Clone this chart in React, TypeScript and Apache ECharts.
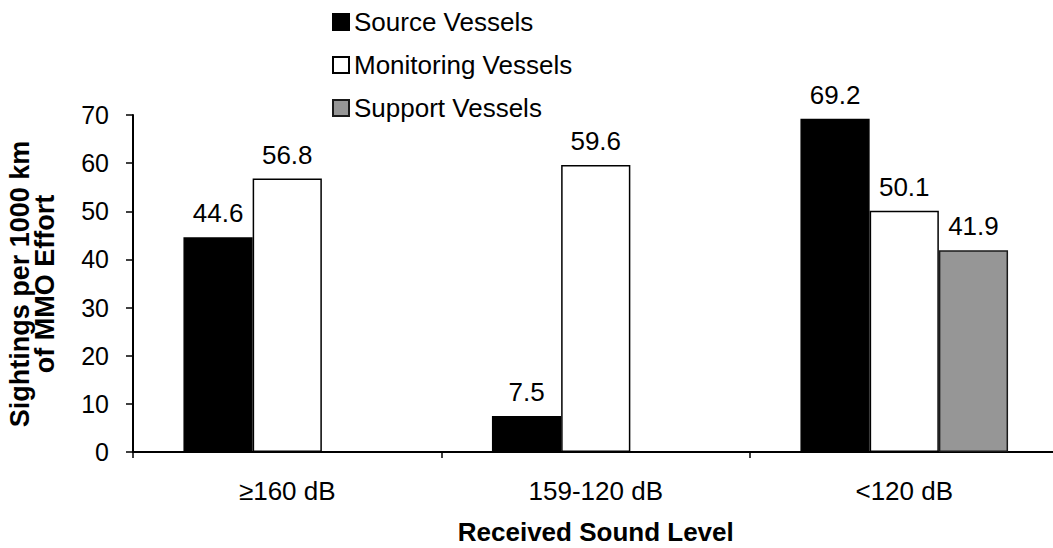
import React, { useEffect, useRef } from "react";
import * as echarts from "echarts";

// Received sound level bands
const categories = ["≥160 dB", "159-120 dB", "<120 dB"];

// Sightings per 1000 km of MMO effort, by vessel type
const sourceVessels = [44.6, 7.5, 69.2];
const monitoringVessels = [56.8, 59.6, 50.1];
const supportVessels = [null, null, 41.9];

const yTicks = { min: 0, max: 70, interval: 10 };

const FONT = "'Liberation Sans', Arial, sans-serif";

export default function App() {
  const ref = useRef<HTMLDivElement>(null);

  useEffect(() => {
    if (!ref.current) return;
    const chart = echarts.init(ref.current, undefined, { renderer: "svg" });

    const labelStyle = {
      show: true,
      position: "top",
      distance: 11,
      color: "#000",
      fontSize: 26,
      fontFamily: FONT,
      formatter: (p: any) => Number(p.value).toFixed(1),
    };

    const makeSeries = (name: string, data: (number | null)[], fill: string, border: string) => ({
      name,
      type: "bar",
      data,
      barGap: "0%",
      barCategoryGap: "32.7%",
      itemStyle: { color: fill, borderColor: border, borderWidth: 1.5 },
      label: labelStyle,
    });

    chart.setOption({
      animation: false,
      backgroundColor: "#fff",
      textStyle: { fontFamily: FONT },
      grid: { left: 133, top: 115, bottom: 96, right: -5.5, outerBoundsMode: "none" },
      legend: {
        orient: "vertical",
        left: 327,
        top: 4,
        itemWidth: 16,
        itemHeight: 16,
        itemGap: 17,
        icon: "rect",
        textStyle: { fontSize: 26, lineHeight: 26, color: "#000", fontFamily: FONT },
        data: ["Source Vessels", "Monitoring Vessels", "Support Vessels"],
      },
      xAxis: {
        type: "category",
        data: categories,
        axisLine: { lineStyle: { color: "#000", width: 2 } },
        axisTick: { show: true, length: 6, lineStyle: { color: "#000", width: 1.5 } },
        axisLabel: { color: "#000", fontSize: 26, margin: 26, fontFamily: FONT },
        name: "Received Sound Level",
        nameLocation: "middle",
        nameGap: 67,
        nameTextStyle: { fontSize: 26, fontWeight: "bold", color: "#000", fontFamily: FONT },
      },
      yAxis: {
        type: "value",
        min: yTicks.min,
        max: yTicks.max,
        interval: yTicks.interval,
        splitLine: { show: false },
        axisLine: { show: true, lineStyle: { color: "#000", width: 2 } },
        axisTick: { show: true, length: 7, lineStyle: { color: "#000", width: 1.5 } },
        axisLabel: { color: "#000", fontSize: 25, margin: 24, fontFamily: FONT },
      },
      graphic: [
        {
          type: "text",
          x: 32,
          y: 284,
          rotation: Math.PI / 2,
          style: {
            text: "Sightings per 1000 km\nof MMO Effort",
            fontSize: 27,
            lineHeight: 25,
            fontWeight: "bold",
            fontFamily: FONT,
            fill: "#000",
            align: "center",
            verticalAlign: "middle",
          },
        },
      ],
      series: [
        makeSeries("Source Vessels", sourceVessels, "#000000", "#000000"),
        makeSeries("Monitoring Vessels", monitoringVessels, "#ffffff", "#000000"),
        makeSeries("Support Vessels", supportVessels, "#969696", "#1a1a1a"),
      ],
    });

    return () => chart.dispose();
  }, []);

  return (
    <div
      ref={ref}
      style={{ position: "absolute", left: 0, top: 0, width: 1053, height: 548, background: "#fff" }}
    />
  );
}
